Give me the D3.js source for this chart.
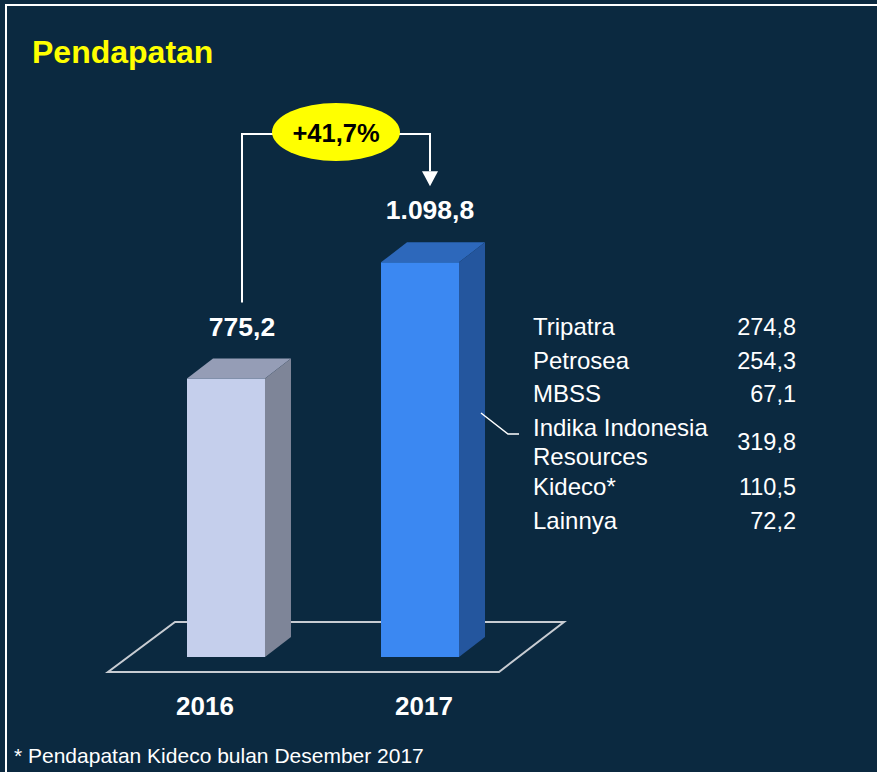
<!DOCTYPE html>
<html>
<head>
<meta charset="utf-8">
<script src="https://cdn.jsdelivr.net/npm/d3@7"></script>
<style>
	body { margin: 0; background: #0b2940; }
	svg { display: block; font-family: 'Liberation Sans', Arial, sans-serif; }
</style>
</head>
<body>
<div id="chart"></div>
<script>
const years = ['2016', '2017'];
const revenue = [775.2, 1098.8];
const segments = ['Tripatra', 'Petrosea', 'MBSS', 'Indika Indonesia\nResources', 'Kideco*', 'Lainnya'];
const segmentValues = [274.8, 254.3, 67.1, 319.8, 110.5, 72.2];
const title = 'Pendapatan';
const footnote = '* Pendapatan Kideco bulan Desember 2017';

const width = 877;
const height = 772;
const depth = {x: 26, y: -20};

const ID = d3.formatLocale({decimal: ',', thousands: '.', grouping: [3], currency: ['Rp', '']});
const fmt = ID.format(',.1f');

const svg = d3.select('#chart')
	.append('svg')
	.attr('width', width)
	.attr('height', height);

svg.append('rect')
	.attr('width', width)
	.attr('height', height)
	.attr('fill', '#0b2940');

// frame (runs off the right and bottom edges)
svg.append('rect')
	.attr('x', 6)
	.attr('y', 5)
	.attr('width', width + 20)
	.attr('height', height + 20)
	.attr('fill', 'none')
	.attr('stroke', '#ffffff')
	.attr('stroke-width', 2);

svg.append('text')
	.attr('x', 32)
	.attr('y', 63)
	.attr('fill', '#ffff00')
	.style('font-size', '32px')
	.style('font-weight', 'bold')
	.text(title);

const xScale = d3.scaleBand()
	.domain(years)
	.range([187, 459])
	.paddingInner(0.598)
	.paddingOuter(0);

const yScale = d3.scaleLinear()
	.domain([0, 1200])
	.range([657, 226]);

const labelX = d3.scalePoint().domain(years).range([205, 424]);
const valueX = d3.scalePoint().domain(years).range([242, 430]);

// floor
const floor = [[175, 622], [564, 622], [499, 672], [108, 672]];
svg.append('polygon')
	.attr('points', floor.map(p => p.join(',')).join(' '))
	.attr('fill', 'none')
	.attr('stroke', '#c8ccd2')
	.attr('stroke-width', 2);

const palette = [
	{front: '#c5cfec', top: '#959db6', side: '#7e8598'},
	{front: '#3b88f2', top: '#2d68bb', side: '#24569e'}
];

const bw = xScale.bandwidth();
years.forEach((yr, i) => {
	const x0 = xScale(yr);
	const yTop = yScale(revenue[i]);
	const y0 = yScale(0);
	const c = palette[i];
	const g = svg.append('g').attr('class', 'bar');
	g.append('polygon')
		.attr('points', [[x0, yTop], [x0 + depth.x, yTop + depth.y], [x0 + bw + depth.x, yTop + depth.y], [x0 + bw, yTop]].join(' '))
		.attr('fill', c.top);
	g.append('polygon')
		.attr('points', [[x0 + bw, yTop], [x0 + bw + depth.x, yTop + depth.y], [x0 + bw + depth.x, y0 + depth.y], [x0 + bw, y0]].join(' '))
		.attr('fill', c.side);
	g.append('rect')
		.attr('x', x0)
		.attr('y', yTop)
		.attr('width', bw)
		.attr('height', y0 - yTop)
		.attr('fill', c.front);

	svg.append('text')
		.attr('x', valueX(yr))
		.attr('y', yTop - 43)
		.attr('text-anchor', 'middle')
		.attr('fill', '#ffffff')
		.style('font-size', '26.5px')
		.style('font-weight', 'bold')
		.text(fmt(revenue[i]));

	svg.append('text')
		.attr('x', labelX(yr))
		.attr('y', 715)
		.attr('text-anchor', 'middle')
		.attr('fill', '#ffffff')
		.style('font-size', '26px')
		.style('font-weight', 'bold')
		.text(yr);
});

// growth bracket
const lineTop = 134;
const xa = valueX(years[0]);
const xb = valueX(years[1]);
const gapA = yScale(revenue[0]) - 43 - 33;
const gapB = yScale(revenue[1]) - 43 - 33;
svg.append('path')
	.attr('d', `M${xa},${gapA} V${lineTop} H${xb} V${gapB - 15}`)
	.attr('fill', 'none')
	.attr('stroke', '#ffffff')
	.attr('stroke-width', 2);
svg.append('path')
	.attr('d', `M${xb - 8},${gapB - 15} L${xb + 8},${gapB - 15} L${xb},${gapB} Z`)
	.attr('fill', '#ffffff');

const change = (revenue[1] / revenue[0] - 1) * 100;
const cx = (xa + xb) / 2;
svg.append('ellipse')
	.attr('cx', cx)
	.attr('cy', 132)
	.attr('rx', 64)
	.attr('ry', 29)
	.attr('fill', '#ffff00');
svg.append('text')
	.attr('x', cx)
	.attr('y', 142)
	.attr('text-anchor', 'middle')
	.attr('fill', '#000000')
	.style('font-size', '25.5px')
	.style('font-weight', 'bold')
	.text('+' + ID.format('.1f')(change) + '%');

// leader line to breakdown
svg.append('path')
	.attr('d', 'M481,413 L508,434 H519')
	.attr('fill', 'none')
	.attr('stroke', '#ffffff')
	.attr('stroke-width', 1.5);

// breakdown table
let rowY = 335;
segments.forEach((name, i) => {
	const lines = name.split('\n');
	const t = svg.append('text')
		.attr('fill', '#ffffff')
		.style('font-size', '24px');
	lines.forEach((ln, j) => {
		t.append('tspan')
			.attr('x', 533)
			.attr('y', rowY + j * 29)
			.text(ln);
	});
	svg.append('text')
		.attr('x', 796)
		.attr('y', rowY + (lines.length - 1) * 14.5)
		.attr('text-anchor', 'end')
		.attr('fill', '#ffffff')
		.style('font-size', '23.5px')
		.text(fmt(segmentValues[i]));
	rowY += 33.5 + (lines.length - 1) * 26;
});

svg.append('text')
	.attr('x', 14)
	.attr('y', 763)
	.attr('fill', '#ffffff')
	.style('font-size', '21px')
	.text(footnote);
</script>
</body>
</html>
